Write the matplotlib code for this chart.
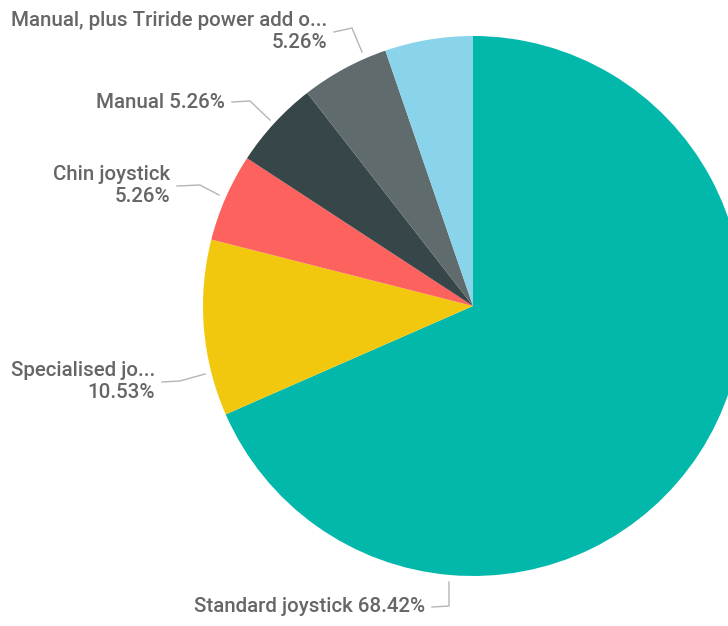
import matplotlib.pyplot as plt

# Share of users by wheelchair control type
categories = ["Standard joystick", "Specialised jo...", "Chin joystick", "Manual",
              "Manual, plus Triride power add o...", "Other"]
shares = [68.42, 10.53, 5.26, 5.26, 5.26, 5.26]
colors = ["#01B8AA", "#F2C80F", "#FD625E", "#374649", "#5F6B6D", "#8AD4EB"]

W, H = 728, 626
cx, cy, R = 473, H - 306, 270

fig = plt.figure(figsize=(W / 100, H / 100), dpi=100)
ax = fig.add_axes([0, 0, 1, 1])

ax.pie(shares, colors=colors, startangle=90, counterclock=False,
       center=(cx, cy), radius=R, frame=True,
       wedgeprops=dict(linewidth=0))
ax.set_xlim(0, W)
ax.set_ylim(0, H)
ax.set_aspect("equal")
ax.axis("off")

txt = dict(color="#666666", fontsize=14.8, family="Roboto", weight="medium", ha="right", va="center")
line = dict(color="#b5b5b5", lw=1)

def label(text, tx, ty, elbow, tip):
    # leader line from the wedge edge to the text, then the label
    xs = [tx + 7, elbow[0], tip[0]]
    ys = [H - ty, H - elbow[1], H - tip[1]]
    ax.plot(xs, ys, **line)
    ax.text(tx, H - ty, text, linespacing=1.2, **txt)

fmt = lambda v: f"{v:.2f}%"
label(f"{categories[4]}\n{fmt(shares[4])}", 327, 32, (352, 28), (362, 52))
label(f"{categories[3]} {fmt(shares[3])}", 225, 102, (250, 101), (270, 120))
label(f"{categories[2]}\n{fmt(shares[2])}", 170, 186, (200, 185), (219, 195))
label(f"{categories[1]}\n{fmt(shares[1])}", 155, 382, (180, 381), (205, 374))
label(f"{categories[0]} {fmt(shares[0])}", 425, 607, (449, 606), (449, 582))

fig.savefig("out.png", dpi=100, facecolor="white")
